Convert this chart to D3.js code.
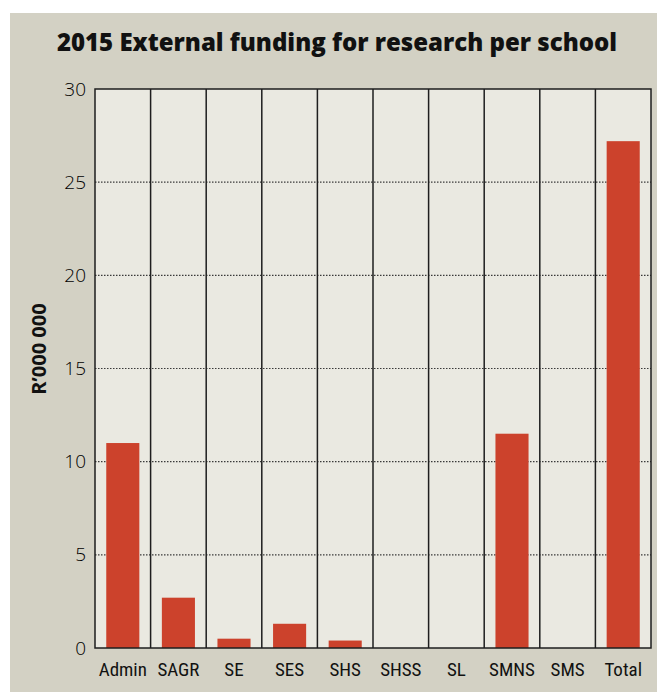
<!DOCTYPE html>
<html>
<head>
<meta charset="utf-8">
<script src="https://cdn.jsdelivr.net/npm/d3@7"></script>
<style>
  html, body { margin: 0; padding: 0; background: #ffffff; }
  svg { display: block; }
</style>
</head>
<body>
<script>
// Schools and their external research funding for 2015 (R'000 000)
const schools = ["Admin", "SAGR", "SE", "SES", "SHS", "SHSS", "SL", "SMNS", "SMS", "Total"];
const funding = [11.0, 2.7, 0.5, 1.3, 0.4, 0, 0, 11.5, 0, 27.2];
const yTicks = [0, 5, 10, 15, 20, 25, 30];

const W = 657, H = 692;
const plot = { left: 95, right: 651, top: 89, bottom: 648 };

const svg = d3.select("body").append("svg")
  .attr("width", W).attr("height", H);

// panel background
svg.append("rect")
  .attr("x", 10).attr("y", 13)
  .attr("width", W - 10).attr("height", H - 13)
  .attr("fill", "#d3d1c4");

const x = d3.scaleBand()
  .domain(schools)
  .range([plot.left, plot.right])
  .paddingInner(0).paddingOuter(0);

const y = d3.scaleLinear()
  .domain([0, 30])
  .range([plot.bottom, plot.top]);

// plot area
svg.append("rect")
  .attr("x", plot.left).attr("y", plot.top)
  .attr("width", plot.right - plot.left)
  .attr("height", plot.bottom - plot.top)
  .attr("fill", "#eae9e1");

// dotted horizontal gridlines
svg.append("g")
  .selectAll("line")
  .data(yTicks.filter(t => t > 0 && t < 30))
  .join("line")
  .attr("x1", plot.left).attr("x2", plot.right)
  .attr("y1", d => y(d)).attr("y2", d => y(d))
  .attr("stroke", "#3a3a3a")
  .attr("stroke-width", 1.2)
  .attr("stroke-dasharray", "1.5,1.5");

// bars
const barW = x.bandwidth() * 0.595;
svg.append("g")
  .selectAll("rect")
  .data(schools.map((s, i) => ({ s, v: funding[i] })).filter(d => d.v > 0))
  .join("rect")
  .attr("x", d => x(d.s) + (x.bandwidth() - barW) / 2)
  .attr("width", barW)
  .attr("y", d => y(d.v))
  .attr("height", d => y(0) - y(d.v))
  .attr("fill", "#cc422c");

// vertical separators between schools
svg.append("g")
  .selectAll("line")
  .data(schools.slice(1))
  .join("line")
  .attr("x1", d => x(d)).attr("x2", d => x(d))
  .attr("y1", plot.top).attr("y2", plot.bottom)
  .attr("stroke", "#1e1e1e")
  .attr("stroke-width", 1.5);

// frame
svg.append("rect")
  .attr("x", plot.left).attr("y", plot.top)
  .attr("width", plot.right - plot.left)
  .attr("height", plot.bottom - plot.top)
  .attr("fill", "none")
  .attr("stroke", "#1e1e1e")
  .attr("stroke-width", 1.5);

// y axis
const yAxis = svg.append("g")
  .attr("transform", `translate(${plot.left},0)`)
  .call(d3.axisLeft(y).tickValues(yTicks).tickSize(0).tickPadding(9));
yAxis.select(".domain").remove();
yAxis.selectAll("text")
  .attr("font-family", "'Open Sans', sans-serif")
  .attr("font-weight", 300)
  .attr("font-size", 19)
  .attr("fill", "#000");

// x axis
const xAxis = svg.append("g")
  .attr("transform", `translate(0,${plot.bottom})`)
  .call(d3.axisBottom(x).tickSize(0).tickPadding(15));
xAxis.select(".domain").remove();
xAxis.selectAll("text")
  .attr("font-family", "'Liberation Sans Narrow', 'Roboto Condensed', sans-serif")
  .attr("font-size", 19)
  .attr("fill", "#111");

// y axis title
svg.append("text")
  .attr("transform", "translate(46,349) rotate(-90)")
  .attr("text-anchor", "middle")
  .attr("font-family", "'Open Sans', sans-serif")
  .attr("font-weight", 700)
  .attr("font-size", 20)
  .attr("fill", "#111")
  .text("R’000 000");

// title
svg.append("text")
  .attr("x", 337).attr("y", 51)
  .attr("text-anchor", "middle")
  .attr("font-family", "'Open Sans', sans-serif")
  .attr("font-weight", 800)
  .attr("font-size", 24)
  .attr("fill", "#111")
  .text("2015 External funding for research per school");
</script>
</body>
</html>
